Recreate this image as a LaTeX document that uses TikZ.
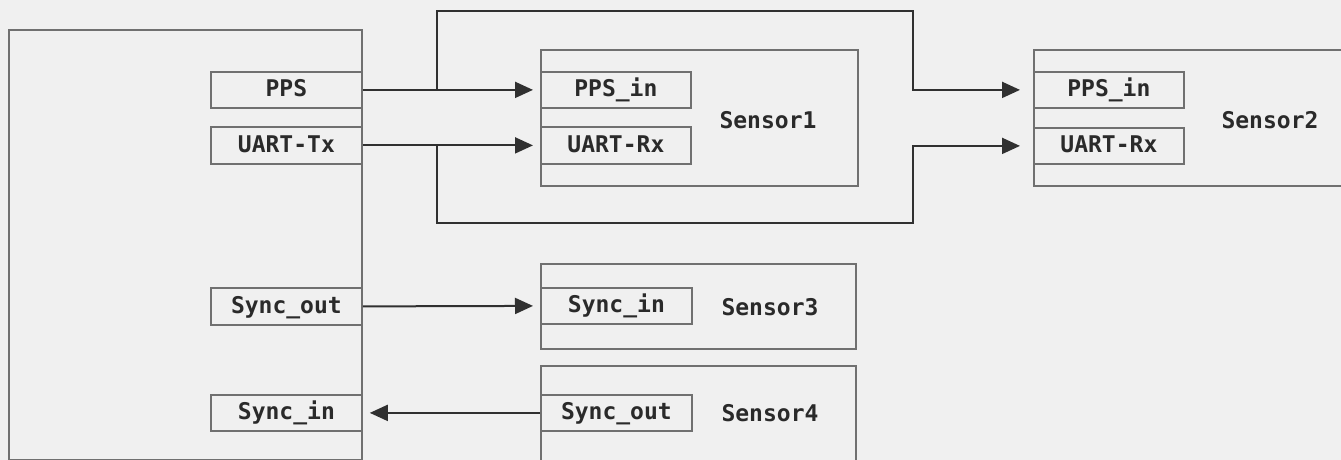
\documentclass[tikz,border=0pt]{standalone}
\usepackage{fontspec}
\setmonofont{DejaVu Sans Mono}
\usetikzlibrary{arrows.meta}
\definecolor{bg}{HTML}{F0F0F0}
\definecolor{boxc}{HTML}{707070}
\definecolor{linec}{HTML}{303030}
\definecolor{txt}{HTML}{2A2A2A}
\begin{document}
\begin{tikzpicture}[x=0.5pt,y=-0.5pt,
  box/.style={draw=boxc, line width=0.9pt, inner sep=0pt, anchor=north west,
    font=\ttfamily\bfseries\fontsize{11.5}{13}\selectfont, text=txt,
    text height=8.3pt, text depth=1.2pt},
  lbl/.style={font=\ttfamily\bfseries\fontsize{11.5}{13}\selectfont, text=txt, inner sep=0pt},
  wire/.style={draw=linec, line width=1pt},
  arr/.style={wire, -{Triangle[length=9pt,width=8pt]}}]
\fill[bg] (0,0) rectangle (1341,460);
\useasboundingbox (0,0) rectangle (1341,460);
\clip (0,0) rectangle (1341,460);
% main controller box
\node[box, minimum width=176.5pt, minimum height=215pt] (main) at (8,29) {};
\node[box, minimum width=75.5pt, minimum height=18pt] (pps) at (210,71) {PPS};
\node[box, minimum width=75.5pt, minimum height=18.5pt] (utx) at (210,126) {UART-Tx};
\node[box, minimum width=75.5pt, minimum height=18.5pt] (lso) at (210,287) {Sync\_out};
\node[box, minimum width=75.5pt, minimum height=18pt] (lsi) at (210,394) {Sync\_in};
% Sensor1
\node[box, minimum width=158.5pt, minimum height=68pt] (s1) at (540,49) {};
\node[box, minimum width=75pt, minimum height=18pt] (p1) at (540,71) {PPS\_in};
\node[box, minimum width=75pt, minimum height=18.5pt] (u1) at (540,126) {UART-Rx};
\node[lbl] (s1l) at (768,120) {Sensor1};
% Sensor2
\node[box, minimum width=163.5pt, minimum height=68pt] (s2) at (1033,49) {};
\node[box, minimum width=75pt, minimum height=18pt] (p2) at (1033,71) {PPS\_in};
\node[box, minimum width=75pt, minimum height=18pt] (u2) at (1033,127) {UART-Rx};
\node[lbl] (s2l) at (1270,120) {Sensor2};
% Sensor3
\node[box, minimum width=157.5pt, minimum height=42.5pt] (s3) at (540,263) {};
\node[box, minimum width=75.5pt, minimum height=18pt] (si3) at (540,287) {Sync\_in};
\node[lbl] (s3l) at (770,307) {Sensor3};
% Sensor4
\node[box, minimum width=157.5pt, minimum height=47.5pt] (s4) at (540,365) {};
\node[box, minimum width=75.5pt, minimum height=18pt] (so4) at (540,394) {Sync\_out};
\node[lbl] (s4l) at (770,413) {Sensor4};
% junctions
\coordinate (j1) at (437,89);
\coordinate (t1) at (437,11);
\coordinate (t2) at (913,11);
\coordinate (j2) at (437,144.5);
\coordinate (b1) at (437,223);
\coordinate (b2) at (913,223);
% connectors
\draw[arr, shorten >=3.5pt] (pps.east) -- (p1.west);
\draw[arr, shorten >=6.5pt] (j1) -- (t1) -- (t2) |- (p2.west);
\draw[arr, shorten >=3.5pt] (utx.east) -- (u1.west);
\draw[arr, shorten >=6.5pt] (j2) -- (b1) -- (b2) |- (u2.west);
\draw[arr, shorten >=3.5pt] (lso.east) -- (si3.west);
\draw[arr, shorten >=3.5pt] (so4.west) -- (lsi.east);
\end{tikzpicture}
\end{document}
